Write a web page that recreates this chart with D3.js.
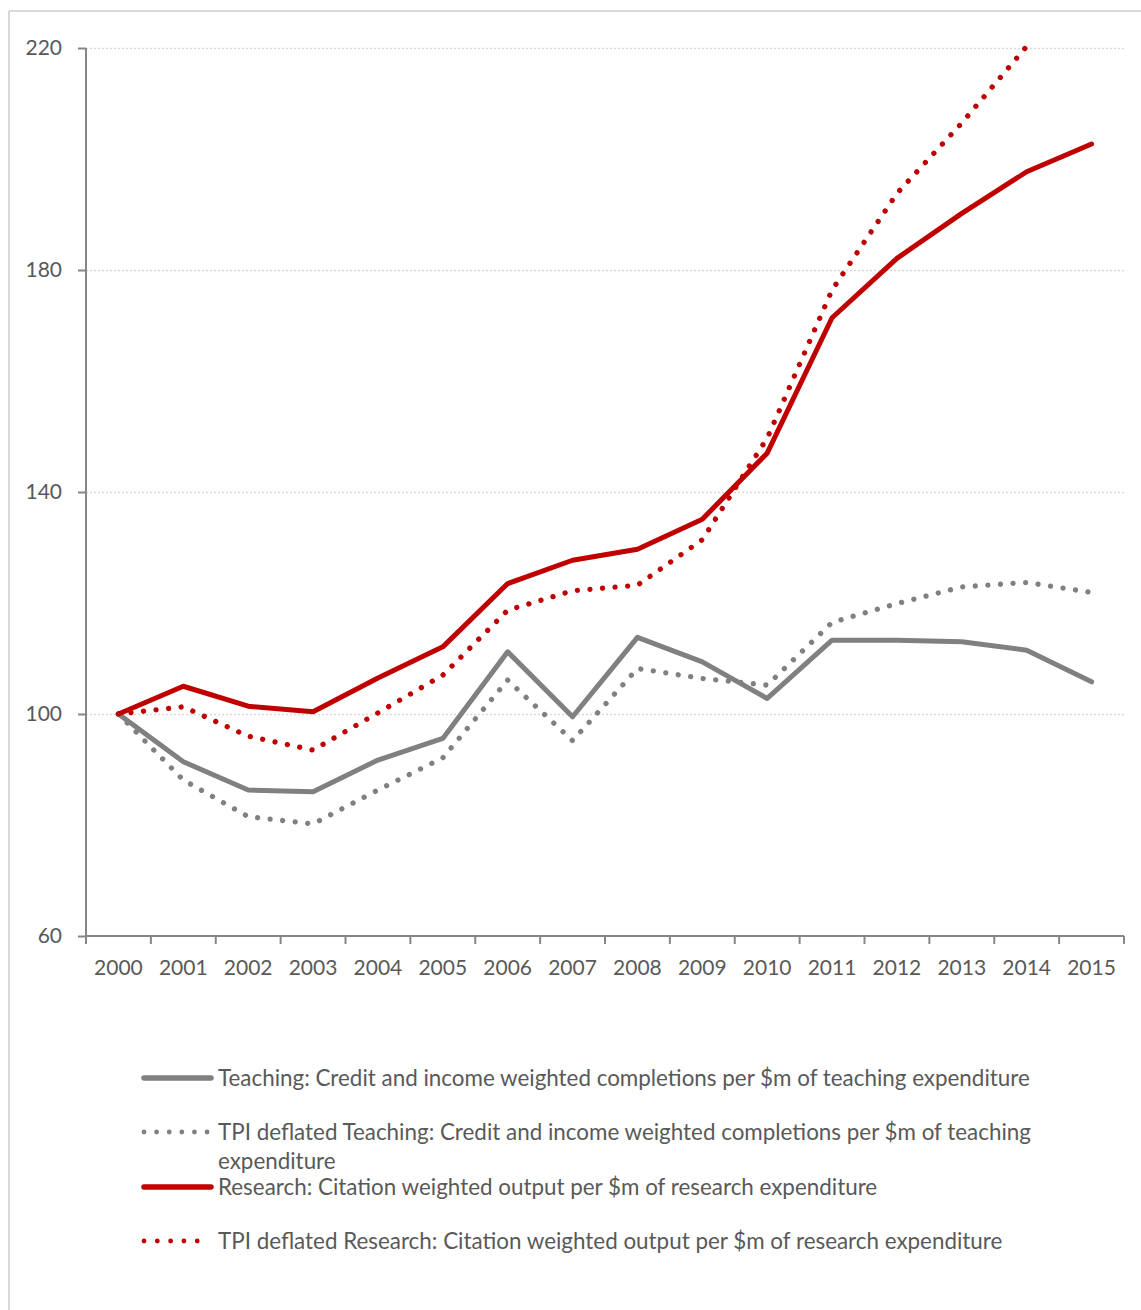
<!DOCTYPE html>
<html>
<head>
<meta charset="utf-8">
<script src="https://cdn.jsdelivr.net/npm/d3@7"></script>
<style>
  html, body { margin: 0; padding: 0; background: #fff; }
  svg { display: block; }
  text { font-family: Lato, "Open Sans", sans-serif; fill: #595959; }
</style>
</head>
<body>
<svg id="chart" width="1141" height="1310"></svg>
<script>
// Productivity indices, 2000 = 100
const years = ["2000","2001","2002","2003","2004","2005","2006","2007","2008","2009","2010","2011","2012","2013","2014","2015"];
const teaching      = [100, 91.4, 86.3, 86.0, 91.7, 95.6, 111.2, 99.5, 113.8, 109.4, 102.8, 113.3, 113.3, 113.0, 111.5, 105.8];
const teachingTPI   = [100, 88.1, 81.5, 80.2, 86.3, 92.1, 106.1, 95.2, 108.2, 106.4, 105.2, 116.5, 119.9, 122.9, 123.7, 121.9];
const research      = [100, 105.0, 101.4, 100.4, 106.5, 112.1, 123.5, 127.7, 129.7, 135.1, 147.0, 171.4, 182.1, 190.2, 197.7, 202.7];
const researchTPI   = [100, 101.3, 96.0, 93.5, 100.2, 107.0, 118.7, 122.2, 123.2, 131.4, 149.7, 176.4, 193.8, 206.5, 220.3, 227.0];
const yTicks = [60, 100, 140, 180, 220];
const seriesNames = [
  "Teaching: Credit and income weighted completions per $m of teaching expenditure",
  "TPI deflated Teaching: Credit and income weighted completions per $m of teaching expenditure",
  "Research: Citation weighted output per $m of research expenditure",
  "TPI deflated Research: Citation weighted output per $m of research expenditure"
];

const series = [
  { name: seriesNames[0], values: teaching,    color: "#808080", dotted: false },
  { name: seriesNames[1], values: teachingTPI, color: "#808080", dotted: true },
  { name: seriesNames[2], values: research,    color: "#c00000", dotted: false },
  { name: seriesNames[3], values: researchTPI, color: "#c00000", dotted: true }
];

const svg = d3.select("#chart");
const plot = { left: 86, right: 1124, top: 48, bottom: 936 };

// outer frame (top and left edges)
svg.append("line").attr("x1", 9).attr("x2", 1141).attr("y1", 11).attr("y2", 11)
  .attr("stroke", "#d9d9d9").attr("stroke-width", 2);
svg.append("line").attr("x1", 9).attr("x2", 9).attr("y1", 11).attr("y2", 1310)
  .attr("stroke", "#d9d9d9").attr("stroke-width", 2);

const x = d3.scaleBand().domain(years).range([plot.left, plot.right]);
const y = d3.scaleLinear().domain([60, 220]).range([plot.bottom, plot.top]);

// gridlines
svg.append("g").selectAll("line").data(yTicks.filter(t => t > 60)).join("line")
  .attr("x1", plot.left).attr("x2", plot.right)
  .attr("y1", d => y(d) + 0.5).attr("y2", d => y(d) + 0.5)
  .attr("stroke", "#d9d9d9").attr("stroke-width", 1.3).attr("stroke-dasharray", "2 2");

// y axis
const yAxis = svg.append("g").attr("transform", `translate(${plot.left},0)`)
  .call(d3.axisLeft(y).tickValues(yTicks).tickSize(8).tickPadding(16).tickFormat(d3.format("d")));
yAxis.select(".domain").attr("stroke", "#868686").attr("stroke-width", 2).attr("d", `M0,${plot.top}V${plot.bottom}`);
yAxis.selectAll(".tick line").attr("stroke", "#868686").attr("stroke-width", 2);
yAxis.selectAll(".tick text").attr("font-size", 21).style("fill", "#595959");

// x axis: ticks on category boundaries
const xAxis = svg.append("g").attr("transform", `translate(0,${plot.bottom})`);
xAxis.append("line").attr("x1", plot.left).attr("x2", plot.right).attr("stroke", "#868686").attr("stroke-width", 2);
const bounds = years.map(d => x(d)).concat([plot.right]);
xAxis.selectAll("line.tk").data(bounds).join("line").attr("class", "tk")
  .attr("x1", d => d).attr("x2", d => d).attr("y1", 0).attr("y2", 8)
  .attr("stroke", "#868686").attr("stroke-width", 2);
xAxis.selectAll("text").data(years).join("text")
  .attr("x", d => x(d) + x.bandwidth() / 2).attr("y", 39)
  .attr("text-anchor", "middle").attr("font-size", 21).text(d => d);

// clip to the plot area
svg.append("clipPath").attr("id", "plotclip").append("rect")
  .attr("x", plot.left).attr("y", plot.top - 3).attr("width", plot.right - plot.left).attr("height", plot.bottom - plot.top + 3);

const line = d3.line()
  .x((d, i) => x(years[i]) + x.bandwidth() / 2)
  .y(d => y(d));

const lines = svg.append("g").attr("clip-path", "url(#plotclip)");
// drawing order: dotted series underneath solid ones
[1, 3, 0, 2].forEach(k => {
  const s = series[k];
  lines.append("path").datum(s.values)
    .attr("d", line)
    .attr("fill", "none")
    .attr("stroke", s.color)
    .attr("stroke-width", s.dotted ? 5.3 : 5)
    .attr("stroke-linecap", "round")
    .attr("stroke-linejoin", "round")
    .attr("stroke-dasharray", s.dotted ? "0.01 12.6" : null);
});

// legend
const legendRows = [
  { y: 1078, s: series[0] },
  { y: 1132, s: series[1], wrap: ["TPI deflated Teaching: Credit and income weighted completions per $m of teaching", "expenditure"] },
  { y: 1187, s: series[2] },
  { y: 1241, s: series[3] }
];
const legend = svg.append("g");
legendRows.forEach(r => {
  legend.append("line")
    .attr("x1", 144).attr("x2", r.s.dotted ? 208 : 211)
    .attr("y1", r.y).attr("y2", r.y)
    .attr("stroke", r.s.color)
    .attr("stroke-width", r.s.dotted ? 4.8 : 5.5)
    .attr("stroke-linecap", "round")
    .attr("stroke-dasharray", r.s.dotted ? (r.s.color === "#808080" ? "0.01 12.6" : "0.01 13.3") : null);
  const t = legend.append("text").attr("x", 218).attr("y", r.y + 8).attr("font-size", 22.4);
  const parts = r.wrap || [r.s.name];
  parts.forEach((p, i) => t.append("tspan").attr("x", 218).attr("dy", i === 0 ? 0 : 29).text(p));
});
</script>
</body>
</html>
